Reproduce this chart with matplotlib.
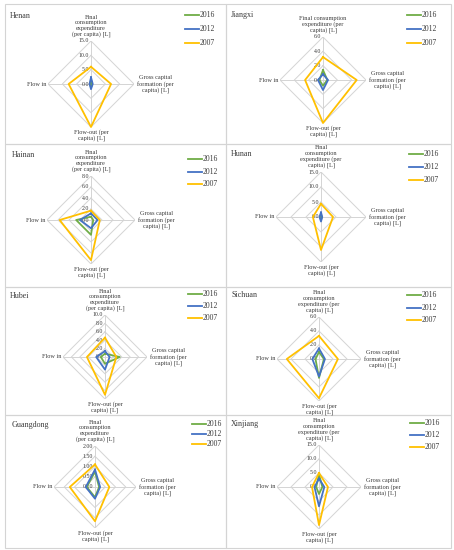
import numpy as np
import matplotlib
matplotlib.use("Agg")
import matplotlib.pyplot as plt
from matplotlib.patches import Rectangle

plt.rcParams['font.family'] = ['Liberation Serif', 'DejaVu Serif']

# data
provinces = ["Henan", "Jiangxi", "Hainan", "Hunan", "Hubei", "Sichuan", "Guangdong", "Xinjiang"]
years = ["2016", "2012", "2007"]
# order of axes: final consumption, gross capital formation, flow-out, flow in
henan = [[1.5, 0.4, 1.2, 0.3], [2.3, 0.6, 1.8, 0.5], [6.0, 7.0, 15.0, 7.8]]
jiangxi = [[1.4, 0.6, 0.8, 0.5], [0.8, 0.7, 1.4, 0.7], [3.2, 4.7, 6.0, 2.5]]
hainan = [[0.6, 0.4, 2.7, 2.7], [1.2, 1.2, 1.5, 2.0], [1.7, 1.6, 7.3, 5.7]]
hunan = [[1.0, 0.3, 1.0, 0.3], [1.5, 0.4, 1.5, 0.5], [4.4, 4.0, 11.0, 2.7]]
hubei = [[0.8, 3.5, 1.6, 1.0], [1.4, 1.1, 3.0, 2.1], [4.6, 2.7, 9.0, 4.3]]
sichuan = [[1.0, 0.7, 2.7, 0.5], [1.5, 0.85, 2.5, 0.95], [3.3, 2.7, 5.6, 4.6]]
guangdong = [[0.75, 0.2, 0.5, 0.4], [0.85, 0.25, 0.57, 0.45], [1.1, 0.7, 1.67, 1.23]]
xinjiang = [[4.5, 1.2, 2.5, 1.0], [3.0, 1.9, 6.9, 1.6], [5.0, 3.2, 13.6, 2.5]]
values = [henan, jiangxi, hainan, hunan, hubei, sichuan, guangdong, xinjiang]

axis_max = [15.0, 6.0, 8.0, 15.0, 10.0, 6.0, 2.0, 15.0]
axis_step = [5.0, 2.0, 2.0, 5.0, 2.0, 2.0, 0.5, 5.0]
tick_fmt = ["{:.1f}"] * 6 + ["{:.2f}", "{:.1f}"]

top_labels = [
    "Final\nconsumption\nexpenditure\n(per capita) [L]",
    "Final consumption\nexpenditure (per\ncapita) [L]",
    "Final\nconsumption\nexpenditure\n(per capita) [L]",
    "Final\nconsumption\nexpenditure (per\ncapita) [L]",
    "Final\nconsumption\nexpenditure\n(per capita) [L]",
    "Final\nconsumption\nexpenditure (per\ncapita) [L]",
    "Final\nconsumption\nexpenditure\n(per capita) [L]",
    "Final\nconsumption\nexpenditure (per\ncapita) [L]",
]
right_label = "Gross capital\nformation (per\ncapita) [L]"
bottom_label = "Flow-out (per\ncapita) [L]"
left_label = "Flow in"

colors = ["#70ad47", "#4472c4", "#ffc000"]
grid_c = "#d4d4d4"
text_c = "#3a3a3a"

W, H = 454, 550
fig = plt.figure(figsize=(W / 100, H / 100), dpi=100)

# panel layout in pixels
col_x = [5, 226, 451]
row_y = [4, 144, 287, 415, 548]
centers = [(91, 84), (323, 80), (91, 220), (321, 217),
           (105, 357), (319, 359), (95, 487), (319, 487)]
radii = [43, 43, 44, 45, 42, 42, 41, 42]
title_pos = [(10, 16), (231, 15), (12, 155), (231, 154),
             (10, 296), (231, 295), (12, 425), (231, 424)]
legend_pos = [(185, 15, 14), (407, 15, 14), (188, 159, 12.5), (409, 154, 13),
              (188, 294, 12), (407, 295, 12.5), (192, 424, 10), (410, 423, 12)]

# panel borders
bg = fig.add_axes([0, 0, 1, 1])
bg.set_xlim(0, W)
bg.set_ylim(H, 0)
bg.axis('off')
for x0, x1 in [(col_x[0], col_x[1]), (col_x[1], col_x[2])]:
    for y0, y1 in zip(row_y[:-1], row_y[1:]):
        bg.add_patch(Rectangle((x0, y0), x1 - x0, y1 - y0, fill=False,
                               edgecolor=grid_c, lw=0.8))

angles = np.deg2rad([0, 90, 180, 270, 0])

for i, name in enumerate(provinces):
    cx, cy = centers[i]
    R = radii[i]
    ax = fig.add_axes([(cx - R) / W, 1 - (cy + R) / H, 2 * R / W, 2 * R / H],
                      projection='polar')
    ax.set_theta_zero_location('N')
    ax.set_theta_direction(-1)
    rmax = axis_max[i]
    ax.set_ylim(0, rmax)
    ax.axis('off')

    ticks = np.arange(0, rmax + 1e-9, axis_step[i])
    for t in ticks[1:]:
        ax.plot(angles, [t] * 5, color=grid_c, lw=0.7, zorder=1)
    for a in angles[:4]:
        ax.plot([a, a], [0, rmax], color=grid_c, lw=0.7, zorder=1)

    for k, yr in enumerate(years):
        v = values[i][k]
        ax.plot(angles, v + v[:1], color=colors[k], lw=1.3, zorder=3 + k,
                label=yr, clip_on=False)

    for t in ticks:
        ax.annotate(tick_fmt[i].format(t), xy=(0, t), xytext=(-1.2, 0),
                    textcoords='offset points', ha='right', va='center',
                    fontsize=4.2, color=text_c, annotation_clip=False, zorder=2)

    ax.annotate(top_labels[i], xy=(0, rmax), xytext=(0, 3), textcoords='offset points',
                ha='center', va='bottom', fontsize=4.5, color=text_c,
                linespacing=1.05, annotation_clip=False)
    ax.annotate(right_label, xy=(np.pi / 2, rmax), xytext=(2.5, 0), textcoords='offset points',
                ha='left', va='center', fontsize=4.5, color=text_c,
                linespacing=1.05, multialignment='center', annotation_clip=False)
    ax.annotate(bottom_label, xy=(np.pi, rmax), xytext=(0, -1.5), textcoords='offset points',
                ha='center', va='top', fontsize=4.5, color=text_c,
                linespacing=1.05, annotation_clip=False)
    ax.annotate(left_label, xy=(3 * np.pi / 2, rmax), xytext=(-1, 0), textcoords='offset points',
                ha='right', va='center', fontsize=4.5, color=text_c,
                annotation_clip=False)

    tx, ty = title_pos[i]
    bg.text(tx, ty, name, ha='left', va='center', fontsize=5.8, color=text_c)

    lx, ly, dy = legend_pos[i]
    for k, yr in enumerate(years):
        yy = ly + k * dy
        bg.plot([lx, lx + 14], [yy, yy], color=colors[k], lw=1.3)
        bg.text(lx + 14.5, yy, yr, ha='left', va='center', fontsize=5.5, color=text_c)

fig.savefig("out.png", dpi=100)
